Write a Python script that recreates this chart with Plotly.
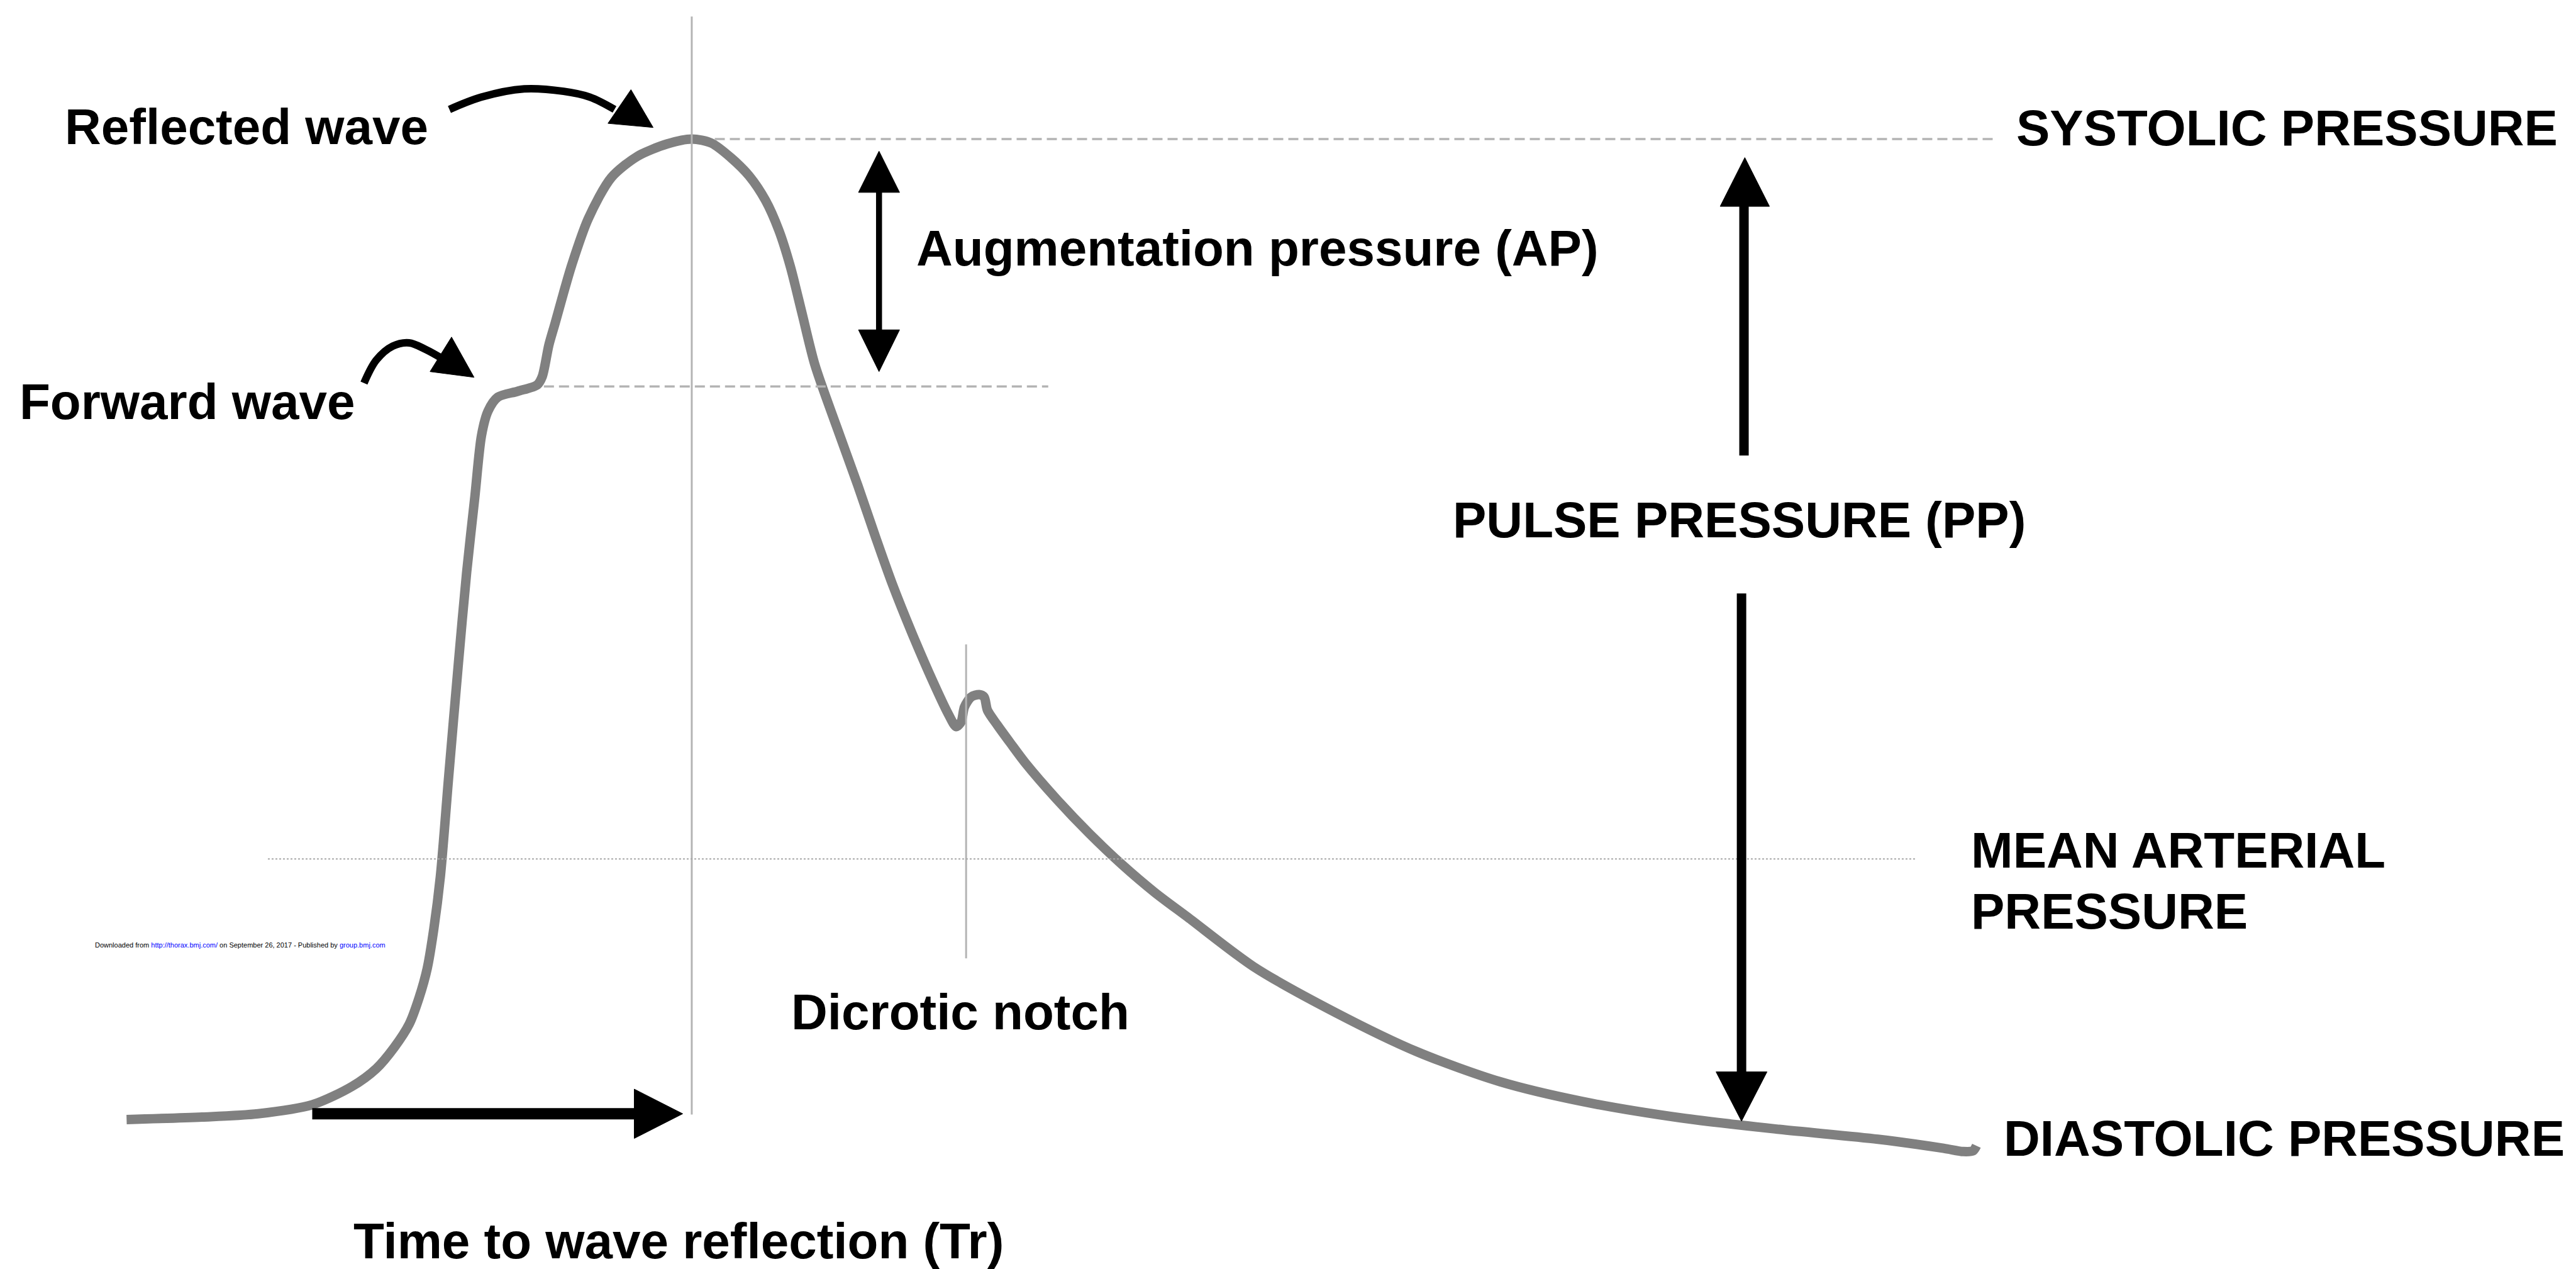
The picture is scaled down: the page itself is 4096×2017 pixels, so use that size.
import plotly.graph_objects as go

# Drawing units: the reference at 1568 x 772 units (y grows downward)
UX, UY = 1568, 772
W, H = 4096, 2017

# ---- Pulse waveform ----
wave_x = [74, 120, 154, 187, 211, 226, 237, 246, 252, 257, 261, 265, 270, 276, 281, 286, 290, 294, 300,
          312, 324, 327, 331, 335, 340, 345, 355, 369, 385, 403, 418, 430, 442, 453, 463, 471, 478,
          485, 493, 506, 519, 530, 540, 552, 565, 574, 579, 582, 584, 588, 593, 596,
          598, 604, 612, 621, 640, 660, 680, 700, 720, 760, 810, 860, 910, 960, 1020, 1080, 1140,
          1180, 1192, 1198, 1200]
wave_y = [678, 676.5, 674.5, 669, 658, 647, 634, 620, 604, 586, 562, 530, 470, 400, 345, 299, 262, 247, 238.5,
          235, 231, 226, 207, 193, 175, 158, 130, 105, 92, 84.5, 81.5, 84, 93, 104, 119, 137, 159,
          187, 219, 256, 292, 324, 352, 382, 412, 431, 439, 436, 427, 421, 419.5, 421,
          429, 438, 449, 461, 483, 504, 523, 540, 555, 585, 613, 637, 655, 667, 677, 684, 690,
          695.5, 697.5, 697, 694]

# ---- Reference levels ----
systolic_level = 81.5
forward_level = 232
map_level = 519.5
peak_time = 418
notch_time = 585

# ---- Labels ----
label_text = ["Reflected wave", "Forward wave", "Augmentation pressure (AP)", "SYSTOLIC PRESSURE",
              "PULSE PRESSURE (PP)", "MEAN ARTERIAL", "PRESSURE", "Dicrotic notch",
              "DIASTOLIC PRESSURE", "Time to wave reflection (Tr)"]
label_x = [39.7, 12.2, 558, 1227.6, 884.5, 1200, 1200, 481.7, 1220, 215.5]
label_base = [87.5, 254.7, 161.5, 88.2, 326.7, 527.7, 565, 626, 703, 765.3]

# ---- Curved pointer arrows ----
refl_arrow_x = [270.5, 290, 316, 340, 356, 371]
refl_arrow_y = [63.5, 56, 51, 52.5, 56, 63.5]
refl_head_x = [394.5, 367, 381]
refl_head_y = [74.5, 72, 51.5]

fwd_arrow_x = [218.5, 226, 236, 246, 256, 266]
fwd_arrow_y = [230, 216, 207.5, 205.5, 209.5, 215]
fwd_head_x = [285.5, 258.7, 271.8]
fwd_head_y = [226.5, 223, 202]

GREY = "#808080"
LIGHT = "#b4b4b4"
BLACK = "#000000"

fig = go.Figure()

# reference lines
shapes = [
    dict(type="line", x0=peak_time, x1=peak_time, y0=7, y1=675,
         line=dict(color=LIGHT, width=3)),
    dict(type="line", x0=notch_time, x1=notch_time, y0=389, y1=580,
         line=dict(color=LIGHT, width=3)),
    dict(type="line", x0=432, x1=1211, y0=systolic_level, y1=systolic_level,
         line=dict(color=LIGHT, width=3.5, dash="16px,8px")),
    dict(type="line", x0=328, x1=635, y0=forward_level, y1=forward_level,
         line=dict(color=LIGHT, width=3.5, dash="16px,8px")),
    dict(type="line", x0=160, x1=1163, y0=map_level, y1=map_level,
         line=dict(color="#a8a8a8", width=2, dash="3px,3px")),
]

# straight arrow shafts
shapes += [
    dict(type="line", x0=532, x1=532, y0=112, y1=199, line=dict(color=BLACK, width=9.5)),
    dict(type="line", x0=1058.5, x1=1058.5, y0=121, y1=274, line=dict(color=BLACK, width=15)),
    dict(type="line", x0=1057, x1=1057, y0=358, y1=651, line=dict(color=BLACK, width=15)),
    dict(type="line", x0=187, x1=385, y0=674.5, y1=674.5, line=dict(color=BLACK, width=18)),
]

# waveform
fig.add_trace(go.Scatter(x=wave_x, y=wave_y, mode="lines",
                         line=dict(color=GREY, width=15, shape="spline", smoothing=0.8),
                         hoverinfo="skip"))

# curved pointer arrows
for ax_, ay_, hx, hy in [(refl_arrow_x, refl_arrow_y, refl_head_x, refl_head_y),
                         (fwd_arrow_x, fwd_arrow_y, fwd_head_x, fwd_head_y)]:
    fig.add_trace(go.Scatter(x=ax_, y=ay_, mode="lines",
                             line=dict(color=BLACK, width=12, shape="spline", smoothing=1.0),
                             hoverinfo="skip"))
    fig.add_trace(go.Scatter(x=hx + [hx[0]], y=hy + [hy[0]], mode="lines", fill="toself",
                             fillcolor=BLACK, line=dict(color=BLACK, width=1), hoverinfo="skip"))

# straight arrow heads
heads = [
    ([532, 519.5, 544.5], [88.9, 114, 114]),
    ([532, 519.5, 544.5], [223, 197.6, 197.6]),
    ([1059, 1044, 1074], [92.8, 122.5, 122.5]),
    ([1057, 1041.5, 1072.5], [679, 649, 649]),
    ([412.5, 383, 383], [674.5, 659.5, 689.5]),
]
for hx, hy in heads:
    fig.add_trace(go.Scatter(x=hx + [hx[0]], y=hy + [hy[0]], mode="lines", fill="toself",
                             fillcolor=BLACK, line=dict(color=BLACK, width=1), hoverinfo="skip"))

FONT = "Liberation Sans, Arial, Helvetica, sans-serif"
annotations = []
for t, x, b in zip(label_text, label_x, label_base):
    annotations.append(dict(x=x - 4, y=b - 13.5, text=t, xref="x", yref="y",
                            xanchor="left", yanchor="middle", showarrow=False,
                            font=dict(family=FONT, size=80, color=BLACK, weight="bold")))

annotations.append(dict(
    x=54, y=572, xref="x", yref="y", xanchor="left", yanchor="middle", showarrow=False,
    text=('Downloaded from <span style="color:#0000ff">http://thorax.bmj.com/</span> on September 26, 2017 - '
          'Published by <span style="color:#0000ff">group.bmj.com</span>'),
    font=dict(family=FONT, size=11, color=BLACK)))

fig.update_layout(
    width=W, height=H,
    margin=dict(l=0, r=0, t=0, b=0),
    paper_bgcolor="white", plot_bgcolor="white",
    showlegend=False,
    xaxis=dict(range=[0, UX], visible=False, fixedrange=True),
    yaxis=dict(range=[UY, 0], visible=False, fixedrange=True),
    shapes=shapes,
    annotations=annotations,
)

fig.write_html("out.html")
